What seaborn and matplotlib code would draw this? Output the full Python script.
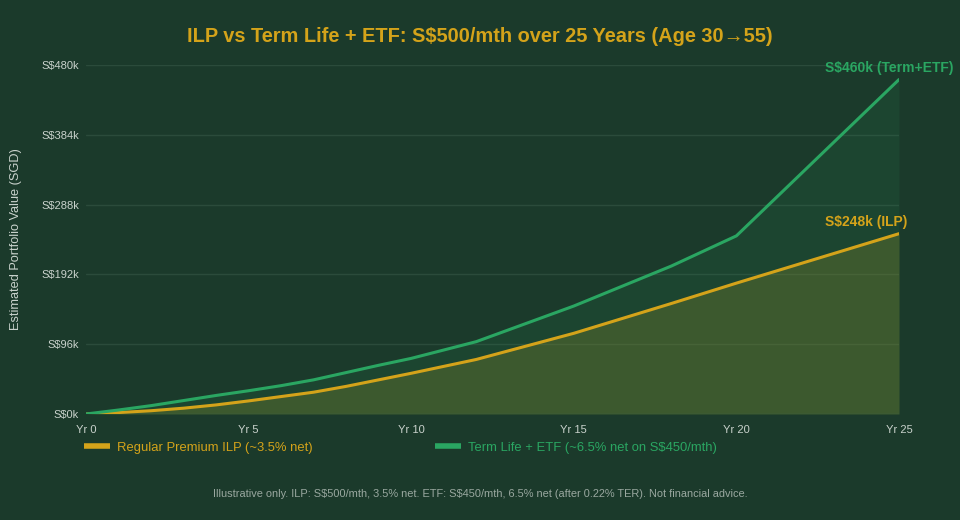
import numpy as np
import pandas as pd
import matplotlib
matplotlib.use("Agg")
import matplotlib.pyplot as plt
import seaborn as sns

# ~~~~~~~~~~~~~~~~~~~~~~~~~~~~~~~~~~~~~~~~~~~~~~~~~~~~~~~~~~~~~~~~~~~~~~~~~
# Values (S$ thousands)
years = [0, 1, 2, 3, 4, 5, 6, 7, 8, 9, 10, 12, 15, 18, 20, 25]
ilp_k = [0, 2, 4.5, 8, 12.5, 18, 24, 30, 38, 47, 56, 75, 111, 152, 180, 248]
etf_k = [0, 5.5, 11.5, 18.5, 25.5, 32, 39, 47, 57, 67, 76.5, 99.5, 148.5, 203.5, 245, 460]

ilp_name = "Regular Premium ILP (~3.5% net)"
etf_name = "Term Life + ETF (~6.5% net on S$450/mth)"
x_ticks = [0, 5, 10, 15, 20, 25]
y_ticks = [0, 96, 192, 288, 384, 480]

BG = "#1b3a2b"
GOLD = "#d4a31a"
GREEN = "#2aa662"
GRID = "#2b4b3b"
TXT = "#c9d2cc"

df = pd.DataFrame({"year": years * 2,
                   "value": ilp_k + etf_k,
                   "series": [ilp_name] * len(years) + [etf_name] * len(years)})

sns.set_theme(style="dark", rc={"axes.facecolor": BG, "figure.facecolor": BG})
plt.rcParams["font.family"] = ["Liberation Sans", "DejaVu Sans"]
plt.rcParams["text.parse_math"] = False

fig = plt.figure(figsize=(9.6, 5.2), dpi=100)
ax = fig.add_axes([86 / 960, 1 - 414 / 520, (899 - 86) / 960, (414 - 65) / 520])

ax.fill_between(years, 0, etf_k, color=GREEN, alpha=0.10, lw=0, zorder=1)
ax.fill_between(years, 0, ilp_k, color="#80822a", alpha=0.33, lw=0, zorder=1)

sns.lineplot(data=df, x="year", y="value", hue="series",
             palette={ilp_name: GOLD, etf_name: GREEN},
             linewidth=2.2, ax=ax, zorder=3)

ax.set_xlim(0, 25)
ax.set_ylim(0, 480)
ax.set_xticks(x_ticks)
ax.set_xticklabels([f"Yr {y}" for y in x_ticks])
ax.set_yticks(y_ticks)
ax.set_yticklabels([f"S${y}k" for y in y_ticks])
ax.tick_params(axis="both", colors=TXT, labelsize=8, length=0, pad=5)
ax.tick_params(axis="x", pad=8)
ax.yaxis.grid(True, color=GRID, lw=1)
ax.xaxis.grid(False)
for s in ax.spines.values():
    s.set_visible(False)
ax.axhline(0, color="#355a44", lw=1, zorder=2)

ax.set_xlabel("")
ax.set_ylabel("Estimated Portfolio Value (SGD)", color=TXT, fontsize=9.2)
ax.yaxis.set_label_coords(-0.079, 0.5)

# end labels
ax.annotate(f"S${etf_k[-1]:.0f}k (Term+ETF)", (years[-1], etf_k[-1]),
            xytext=(-74, 12), textcoords="offset pixels", ha="left", va="center",
            color=GREEN, fontsize=10, fontweight="bold", annotation_clip=False)
ax.annotate(f"S${ilp_k[-1]:.0f}k (ILP)", (years[-1], ilp_k[-1]),
            xytext=(-74, 12), textcoords="offset pixels", ha="left", va="center",
            color=GOLD, fontsize=10, fontweight="bold", annotation_clip=False)

leg = ax.legend(loc="upper left", bbox_to_anchor=(-0.017, -0.045), ncol=2,
                frameon=False, fontsize=9.4, handlelength=2.0, handletextpad=0.5,
                columnspacing=9.4)
for line in leg.get_lines():
    line.set_linewidth(4)
    line.set_solid_capstyle("butt")
for text, col in zip(leg.get_texts(), [GOLD, GREEN]):
    text.set_color(col)

fig.text(0.5, 1 - 36 / 520, "ILP vs Term Life + ETF: S$500/mth over 25 Years (Age 30\u219255)",
         ha="center", va="center", color=GOLD, fontsize=14.4, fontweight="bold")
fig.text(480 / 960, 1 - 494 / 520,
         "Illustrative only. ILP: S$500/mth, 3.5% net. ETF: S$450/mth, 6.5% net (after 0.22% TER). Not financial advice.",
         ha="center", va="center", color="#9aa8a0", fontsize=7.9)

fig.savefig("out.png", dpi=100, facecolor=BG)
